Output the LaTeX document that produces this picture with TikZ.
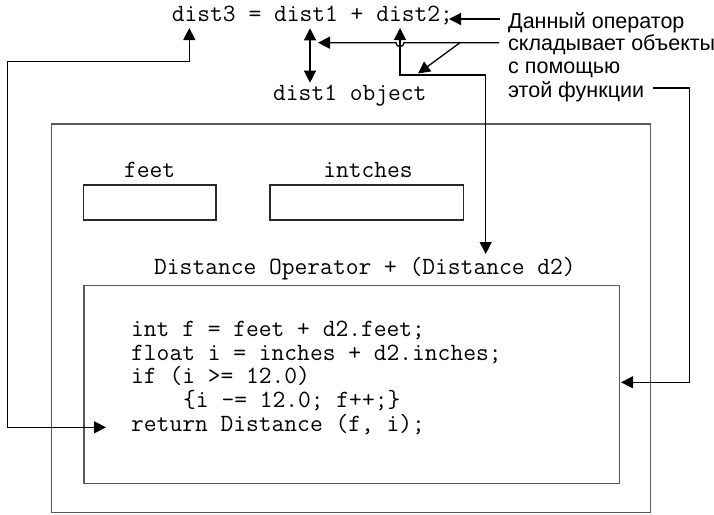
\documentclass[tikz,border=0pt]{standalone}
\usepackage{fontspec}
\newfontfamily\rusfont{Liberation Sans}
\usepackage{tikz}
\usetikzlibrary{arrows.meta}
\definecolor{framegray}{RGB}{90,90,90}
\definecolor{boxdark}{RGB}{40,40,40}

\begin{document}
\begin{tikzpicture}[x=1pt, y=-1pt,
  >={Triangle[length=12pt, width=12pt]},
  code/.style={font=\ttfamily\fontsize{24.8}{26}\selectfont, inner sep=0pt, anchor=base west},
  note/.style={font=\rusfont\fontsize{21.5}{24}\selectfont, inner sep=0pt, anchor=base west},
  link/.style={black, line width=1.3pt},
  frame/.style={framegray, line width=1.4pt},
  field/.style={boxdark, line width=1.3pt}]
\useasboundingbox (0,0) rectangle (714,514);

% Expression and the object under it
\node[code] (expr) at (171.7,21.7) {dist3 = dist1 + dist2;};
\node[code] (obj) at (273,100) {dist1 object};

% Comment on the right
\node[note] (noteA) at (508,28) {Данный оператор};
\node[note] (noteB) at (508,50) {складывает объекты};
\node[note] (noteC) at (508,73) {с помощью};
\node[note] (noteD) at (508,97) {этой функции};

% Object frame
\draw[frame] (51.7,124) rectangle (650.7,512.7);
\node[code, anchor=base] (feetlbl) at (149.6,177.7) {feet};
\node[code, anchor=base] (inchlbl) at (368,177.7) {intches};
\draw[field] (83.3,185) rectangle (216,220);
\draw[field] (270,185) rectangle (463.8,220);

% Operator function
\node[code] (head) at (154,274) {Distance Operator + (Distance d2)};
\draw[frame] (84,285.7) rectangle (619.3,483.3);
\node[code] (codeA) at (131,336.7) {int f = feet + d2.feet;};
\node[code] (codeB) at (131,360.3) {float i = inches + d2.inches;};
\node[code] (codeC) at (131,383.9) {if (i >= 12.0)};
\node[code] (codeD) at (183,407.5) {\{i -= 12.0; f++;\}};
\node[code] (codeE) at (131,431.1) {return Distance (f, i);};

% Connector ends
\coordinate (sumtip) at (449,19);
\coordinate (noteAin) at (500,19);
\coordinate (noteBin) at (499,42.7);
\coordinate (fork) at (460,42.7);
\coordinate (forktip) at (418,73.5);
\coordinate (d1tip) at (318,42.7);
\coordinate (d1up) at (310,28.3);
\coordinate (d1down) at (310,82.7);
\coordinate (d2tip) at (400,28);
\coordinate (optip) at (485.7,254);
\coordinate (d3tip) at (189.3,28);
\coordinate (rettip) at (106,427.3);
\coordinate (noteDout) at (653,88);
\coordinate (bodytip) at (621,382.3);

% Arrows
\draw[link, ->] (noteAin) -- (sumtip);
\draw[link, ->] (noteBin) -- (404,42.7) arc (0:180:4) -- (d1tip);
\draw[link, ->] (fork) -- (forktip);
\draw[link, <->] (d1up) -- (d1down);
\draw[link, <->] (d2tip) -- (400,75) -| (optip);
\draw[link, <->] (d3tip) -- (189.3,61.7) -| (7.3,427.3) -- (rettip);
\draw[link, ->] (noteDout) -| (689.3,382.3) -- (bodytip);

\end{tikzpicture}
\end{document}
